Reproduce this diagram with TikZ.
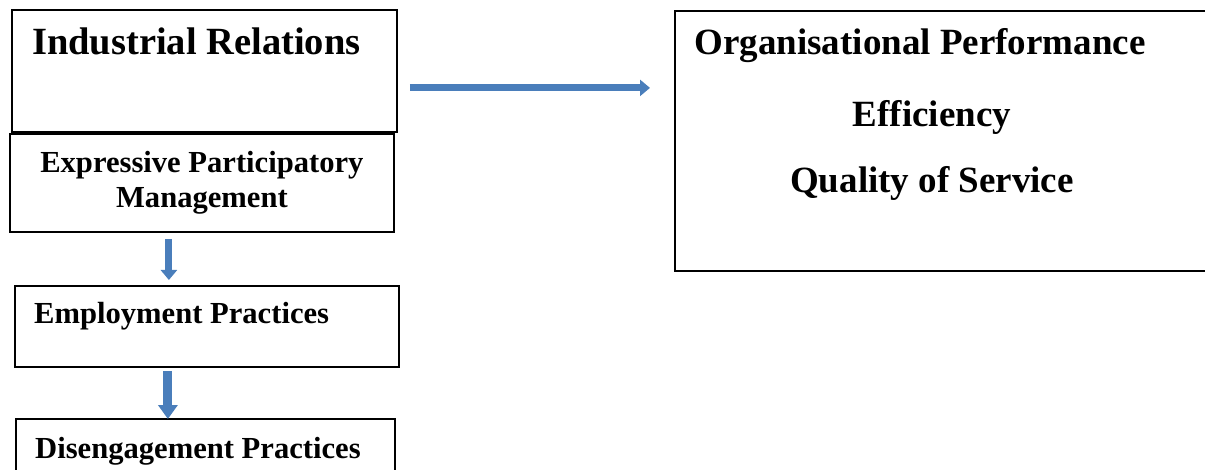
\documentclass[tikz,border=0pt]{standalone}
\usepackage{fontspec}
\setmainfont{Liberation Serif}
\usetikzlibrary{arrows.meta,positioning,calc}
\definecolor{arrowblue}{HTML}{4A7EBB}

\begin{document}
\begin{tikzpicture}[x=1pt, y=-1pt,
    box/.style={rectangle, draw, line width=1.8pt, inner sep=0pt, anchor=north west},
    bigtext/.style={font=\fontsize{37}{44}\selectfont\bfseries, inner sep=0pt},
    smalltext/.style={font=\fontsize{30.6}{35}\selectfont\bfseries, inner sep=0pt},
    blockarrow/.style={draw=arrowblue, line width=7pt, -{Triangle[width=16pt, length=10pt]}}
]
\useasboundingbox (0,0) rectangle (1205,470);
\clip (0,0) rectangle (1205,470);

% left column
\node (ir) [box, minimum width=385, minimum height=122] at (11,9) {};
\node (epm) [box, minimum width=384, minimum height=98] at (9,133) {};
\node (ep) [box, minimum width=384, minimum height=81] at (14,285) {};
\node (dp) [box, minimum width=379, minimum height=80] at (15,418) {};

% right box
\node (op) [box, minimum width=560, minimum height=260] at (674,10) {};

\node (irtext) [bigtext, font=\fontsize{38.5}{44}\selectfont\bfseries, anchor=base west] at ($(ir.north west)+(21,46)$) {Industrial Relations};
\node (epmtop) [smalltext, anchor=base] at ($(epm.north)+(0,40)$) {Expressive Participatory};
\node (epmbot) [smalltext, anchor=base] at ($(epm.north)+(0,75)$) {Management};
\node (eptext) [smalltext, anchor=base west] at ($(ep.north west)+(20,39)$) {Employment Practices};
\node (dptext) [smalltext, anchor=base west] at ($(dp.north west)+(20,40)$) {Disengagement Practices};

\node (optext) [bigtext, anchor=base] at ($(op.north west)+(246,45)$) {Organisational Performance};
\node (efftext) [bigtext, anchor=base] at ($(op.north west)+(258,117)$) {Efficiency};
\node (qostext) [bigtext, anchor=base] at ($(op.north west)+(258,183)$) {Quality of Service};

% arrows
\draw [blockarrow] ($(ir.east)+(12,17)$) coordinate (h1) -- ($(h1 -| op.west)+(-24,0)$);
\draw [blockarrow] ($(epm.south)+(-33,6)$) coordinate (a1) -- ($(a1 |- ep.north)+(0,-5)$);
\draw [blockarrow, line width=9pt, -{Triangle[width=19pt, length=14pt]}] ($(ep.south)+(-39,3)$) coordinate (a2) -- ($(a2 |- dp.north)+(0,1)$);
\end{tikzpicture}
\end{document}
